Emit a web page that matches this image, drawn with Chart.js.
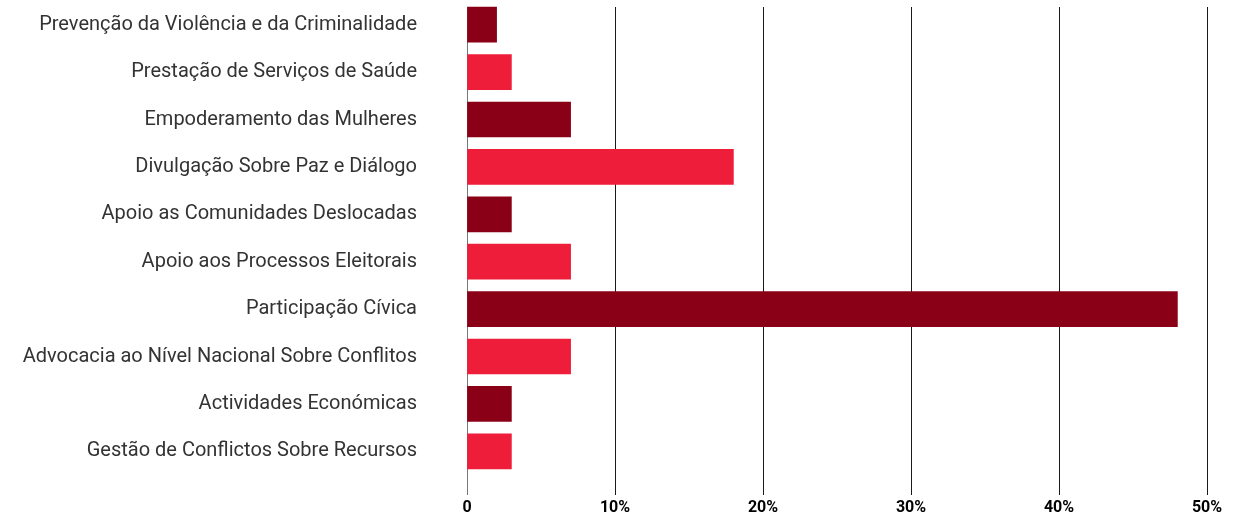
<!DOCTYPE html>
<html>
<head>
<meta charset="utf-8">
<script src="https://cdn.jsdelivr.net/npm/chart.js@4"></script>
<style>
  html, body { margin: 0; padding: 0; background: #fff; }
  #wrap { width: 1249px; height: 517px; }
</style>
</head>
<body>
<div id="wrap"><canvas id="chart"></canvas></div>
<script>
const categories = [
  'Prevenção da Violência e da Criminalidade',
  'Prestação de Serviços de Saúde',
  'Empoderamento das Mulheres',
  'Divulgação Sobre Paz e Diálogo',
  'Apoio as Comunidades Deslocadas',
  'Apoio aos Processos Eleitorais',
  'Participação Cívica',
  'Advocacia ao Nível Nacional Sobre Conflitos',
  'Actividades Económicas',
  'Gestão de Conflictos Sobre Recursos'
];
const values = [2, 3, 7, 18, 3, 7, 48, 7, 3, 3];
const tickValues = [0, 10, 20, 30, 40, 50];

const darkRed = '#8a0016';
const brightRed = '#ee1d39';
const barColors = categories.map((c, i) => i % 2 === 0 ? darkRed : brightRed);

// hide grid above first bar
const topMask = {
  id: 'topMask',
  beforeDatasetsDraw(chart) {
    const a = chart.chartArea;
    chart.ctx.save();
    chart.ctx.fillStyle = '#fff';
    chart.ctx.fillRect(a.left - 2, 0, a.right - a.left + 4, 7);
    chart.ctx.restore();
  }
};

new Chart(document.getElementById('chart'), {
  type: 'bar',
  data: {
    labels: categories,
    datasets: [{
      data: values,
      backgroundColor: barColors,
      barThickness: 35,
      borderWidth: 0
    }]
  },
  options: {
    indexAxis: 'y',
    responsive: true,
    maintainAspectRatio: false,
    animation: false,
    layout: { padding: { top: 1, right: 42, bottom: 1, left: 0 } },
    plugins: { legend: { display: false }, tooltip: { enabled: false } },
    scales: {
      x: {
        min: 0,
        max: 50,
        afterBuildTicks(scale) {
          scale.ticks = tickValues.map(v => ({ value: v }));
        },
        afterFit(scale) { scale.height = 41; },
        grid: {
          color: ctx => ctx.index === 0 ? '#777' : '#1a1a1a',
          lineWidth: 1,
          tickLength: 20
        },
        border: { display: false },
        ticks: {
          color: '#000',
          padding: 5,
          font: { family: 'Roboto', size: 16, weight: 'bold', lineHeight: 1 },
          callback: v => v === 0 ? '0' : v + '%'
        }
      },
      y: {
        afterFit(scale) {
          scale.width = 467;
          scale.paddingTop = 0;
          scale.paddingBottom = 0;
        },
        grid: { display: false, drawTicks: false },
        border: { display: false },
        ticks: {
          color: '#333',
          padding: 50,
          font: { family: 'Roboto', size: 20 }
        }
      }
    }
  },
  plugins: [topMask]
});
</script>
</body>
</html>
